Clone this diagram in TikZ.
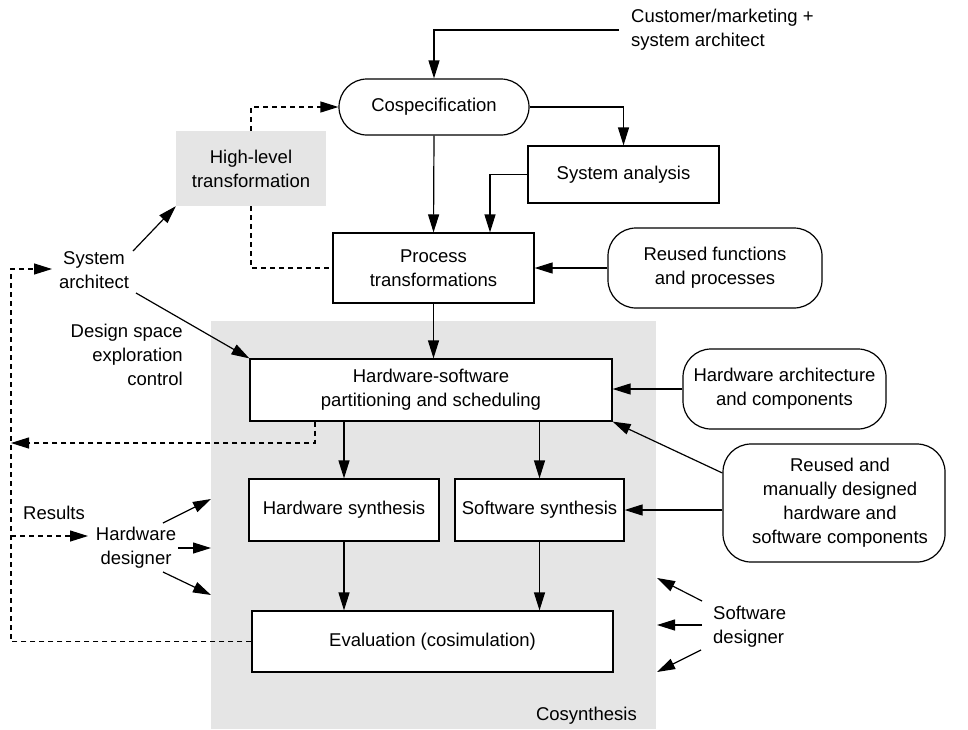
\documentclass[tikz,border=0pt]{standalone}
\usepackage{fontspec}
\setmainfont{Liberation Sans}
\usetikzlibrary{arrows.meta}
\definecolor{cosgray}{RGB}{229,229,229}
\begin{document}
\begin{tikzpicture}[x=1pt,y=-1pt,
  every node/.style={font=\fontsize{18.5}{24}\selectfont, align=center},
  box/.style={draw, line width=1.2pt, fill=white, inner sep=0pt},
  rbox/.style={box, rounded corners=28pt},
  lbl/.style={inner sep=0pt},
  arr/.style={line width=1.2pt, -{Triangle[length=18pt,width=11pt]}},
  dsh/.style={line width=1.2pt, dash pattern=on 5pt off 4pt},
  ]
\useasboundingbox (0,0) rectangle (968,729);
\node[fill=cosgray, minimum width=445pt, minimum height=408pt, inner sep=0pt, anchor=north west] (cosyn) at (211,321) {};

\node[rbox, minimum width=190pt, minimum height=56pt] (cospec) at (434,107) {Cospecification};
\node[box, minimum width=191pt, minimum height=57pt] (sysan) at (623.5,174.5) {System analysis};
\node[fill=cosgray, minimum width=150pt, minimum height=75pt, inner sep=0pt] (hlt) at (251,168.5) {High-level\\transformation};
\node[box, minimum width=201pt, minimum height=70pt] (proc) at (433.5,268) {Process\\transformations};
\node[rbox, minimum width=214pt, minimum height=80pt] (rfp) at (715,268) {Reused functions\\and processes};
\node[box, minimum width=362pt, minimum height=62pt] (part) at (431,390) {Hardware-software\\partitioning and scheduling};
\node[rbox, minimum width=203pt, minimum height=80pt] (hwarch) at (784.5,389) {Hardware architecture\\and components};
\node[box, minimum width=190pt, minimum height=62pt] (hws) at (344,510) {Hardware synthesis};
\node[box, minimum width=169pt, minimum height=62pt] (sws) at (539.5,510) {Software synthesis};
\node[rbox, minimum width=222pt, minimum height=118pt] (reused) at (834,503) {\hspace*{12pt}Reused and\\\hspace*{12pt}manually designed\\\hspace*{12pt}hardware and\\\hspace*{12pt}software components};
\node[box, minimum width=361pt, minimum height=61pt] (eval) at (432.5,641.5) {Evaluation (cosimulation)};

\node[lbl, anchor=west, align=left] (cust) at (631,30) {Customer/marketing +\\system architect};
\node[lbl] (sysarch) at (94,270) {System\\architect};
\node[lbl, anchor=east, align=right] (dse) at (183,355) {Design space\\exploration\\control};
\node[lbl, anchor=west] (res) at (23,513) {Results};
\node[lbl] (hwd) at (136,548) {Hardware\\designer};
\node[lbl, anchor=west, align=left] (swd) at (713,627) {Software\\designer};
\node[lbl, anchor=east] (cosl) at (637,716) {Cosynthesis};

% main flow
\draw[arr, shorten <=12pt] (cust.west) -| (cospec.north);
\draw[arr] (cospec.east) -| (sysan.north);
\draw[arr] (sysan.west) -| ([xshift=56.5pt]proc.north);
\draw[arr] (cospec.south) -- (proc.north);
\draw[arr] (rfp.west) -- (rfp.west -| proc.east);
\draw[dsh, arr] (hlt.north) |- (cospec.west);
\draw[dsh] (hlt.south) |- (proc.west);
\draw[arr] (proc.south) -- (proc.south |- part.north);
\draw[arr] (hws.north |- part.south) -- (hws.north);
\draw[arr] (sws.north |- part.south) -- (sws.north);
\draw[arr] (hws.south) -- (hws.south |- eval.north);
\draw[arr] (sws.south) -- (sws.south |- eval.north);
\draw[arr] (hwarch.west) -- (hwarch.west -| part.east);
\draw[arr] (sws.east -| reused.west) -- (sws.east);
\draw[arr] ([yshift=30pt]reused.west) -- (part.south east);

% system architect
\coordinate (sa1) at (133,251);
\coordinate (sa2) at (136,293);
\draw[arr] (sa1) -- (hlt.south west);
\draw[arr] (sa2) -- (part.north west);

% dashed feedback
\coordinate (lt) at (11,269);
\coordinate (sain) at (52,269);
\draw[dsh, arr] (eval.west) -| (lt) -- (sain);
\coordinate (lp) at (11,443);
\draw[dsh, arr] ([xshift=-116pt]part.south) |- (lp);
\coordinate (lr) at (11,536);
\coordinate (hwin) at (88,536);
\draw[dsh, arr] (lr) -- (hwin);

% hardware designer
\coordinate (hd1) at (163,523); \coordinate (ht1) at (211,499);
\coordinate (hd2) at (178,548); \coordinate (ht2) at (211,548);
\coordinate (hd3) at (163,572); \coordinate (ht3) at (211,595);
\draw[arr] (hd1) -- (ht1);
\draw[arr] (hd2) -- (ht2);
\draw[arr] (hd3) -- (ht3);

% software designer
\coordinate (sd1) at (702,601); \coordinate (st1) at (657,578);
\coordinate (sd2) at (702,625); \coordinate (st2) at (657,625);
\coordinate (sd3) at (701,650); \coordinate (st3) at (657,672);
\draw[arr] (sd1) -- (st1);
\draw[arr] (sd2) -- (st2);
\draw[arr] (sd3) -- (st3);
\end{tikzpicture}
\end{document}
